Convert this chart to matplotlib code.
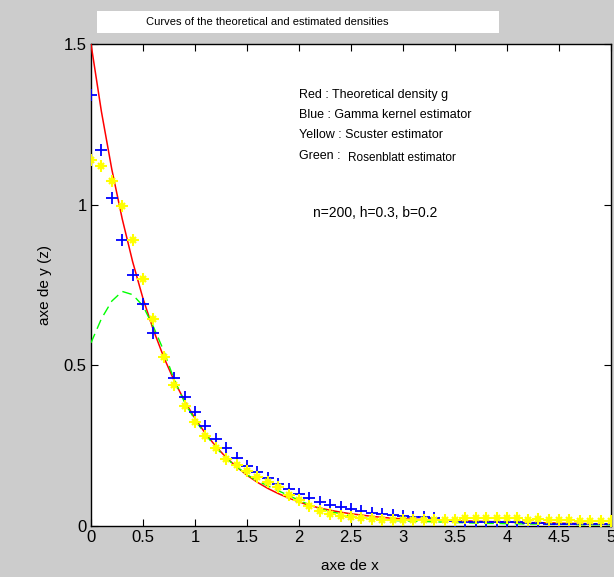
import matplotlib
matplotlib.use("Agg")
import matplotlib.pyplot as plt
from matplotlib.patches import Rectangle

# grid where every estimator was evaluated
x = [0.0, 0.1, 0.2, 0.3, 0.4, 0.5, 0.6, 0.7, 0.8, 0.9,
     1.0, 1.1, 1.2, 1.3, 1.4, 1.5, 1.6, 1.7, 1.8, 1.9,
     2.0, 2.1, 2.2, 2.3, 2.4, 2.5, 2.6, 2.7, 2.8, 2.9,
     3.0, 3.1, 3.2, 3.3, 3.4, 3.5, 3.6, 3.7, 3.8, 3.9,
     4.0, 4.1, 4.2, 4.3, 4.4, 4.5, 4.6, 4.7, 4.8, 4.9, 5.0]

# red: theoretical density g
g_theo = [1.50, 1.29, 1.11, 0.956, 0.823, 0.708, 0.610, 0.525, 0.452, 0.389,
          0.335, 0.288, 0.248, 0.213, 0.184, 0.158, 0.136, 0.117, 0.101, 0.087,
          0.075, 0.064, 0.056, 0.049, 0.043, 0.038, 0.034, 0.030, 0.027, 0.024,
          0.022, 0.021, 0.020, 0.019, 0.018, 0.017, 0.016, 0.015, 0.014, 0.013,
          0.012, 0.011, 0.011, 0.010, 0.010, 0.009, 0.008, 0.008, 0.007, 0.007, 0.006]

# blue: gamma kernel estimator
g_gamma = [1.34, 1.17, 1.02, 0.89, 0.78, 0.69, 0.60, 0.525, 0.46, 0.40,
           0.355, 0.31, 0.272, 0.242, 0.212, 0.188, 0.168, 0.15, 0.13, 0.115,
           0.10, 0.088, 0.075, 0.066, 0.059, 0.052, 0.046, 0.042, 0.038, 0.034,
           0.031, 0.029, 0.027, 0.024, 0.020, 0.015, 0.013, 0.013, 0.012, 0.012,
           0.012, 0.011, 0.010, 0.008, 0.007, 0.006, 0.006, 0.006, 0.006, 0.006, 0.006]

# yellow: Scuster estimator
g_scuster = [1.14, 1.12, 1.075, 0.995, 0.89, 0.77, 0.645, 0.525, 0.44, 0.375,
             0.325, 0.28, 0.243, 0.21, 0.19, 0.17, 0.153, 0.138, 0.12, 0.097,
             0.08, 0.062, 0.048, 0.038, 0.031, 0.029, 0.024, 0.021, 0.018, 0.018,
             0.018, 0.018, 0.018, 0.018, 0.018, 0.018, 0.024, 0.025, 0.024, 0.025,
             0.024, 0.024, 0.020, 0.021, 0.020, 0.020, 0.019, 0.017, 0.016, 0.016, 0.017]

# green: Rosenblatt estimator
g_rosen = [0.57, 0.645, 0.70, 0.73, 0.72, 0.685, 0.62, 0.545, 0.455, 0.385,
           0.33, 0.285, 0.245, 0.21, 0.185, 0.16, 0.14, 0.125, 0.11, 0.095,
           0.08, 0.066, 0.054, 0.045, 0.038, 0.031, 0.026, 0.022, 0.019, 0.017,
           0.016, 0.015, 0.014, 0.013, 0.012, 0.011, 0.010, 0.009, 0.008, 0.008,
           0.007, 0.007, 0.006, 0.006, 0.005, 0.005, 0.005, 0.004, 0.004, 0.004, 0.004]

legend_lines = ["Red : Theoretical density g",
                "Blue : Gamma kernel estimator",
                "Yellow : Scuster estimator"]

plt.rcParams["font.family"] = ["Liberation Sans", "DejaVu Sans"]

fig = plt.figure(figsize=(6.14, 5.77), dpi=100, facecolor="#cccccc")
ax = fig.add_axes([91/614, 51/577, 520/614, 482/577])

ax.plot(x, g_theo, color="red", lw=1.1, zorder=3)
ax.plot(x, g_rosen, color="#00ff00", lw=1.0, dashes=(7, 4), zorder=3)
ax.plot(x, g_gamma, ls="none", marker="+", ms=8.5, mew=1.3, color="blue", zorder=4)
# matlab-like '*' marker: long plus with short diagonals
ax.plot(x, g_scuster, ls="none", marker="+", ms=9, mew=1.5, color="yellow", zorder=5)
ax.plot(x, g_scuster, ls="none", marker="x", ms=4.5, mew=1.6, color="yellow", zorder=5)

ax.set_xlim(0, 5)
ax.set_ylim(0, 1.5)
ax.set_xticks([0, 0.5, 1, 1.5, 2, 2.5, 3, 3.5, 4, 4.5, 5])
ax.set_xticklabels(["0", "0.5", "1", "1.5", "2", "2.5", "3", "3.5", "4", "4.5", "5"])
ax.set_yticks([0, 0.5, 1, 1.5])
ax.set_yticklabels(["0", "0.5", "1", "1.5"])
ax.tick_params(direction="in", length=5, width=0.8, top=True, right=True,
               labelsize=12, pad=3)
for s in ax.spines.values():
    s.set_linewidth(1.0)

ax.set_xlabel("axe de x", fontsize=11, va="center")
ax.xaxis.set_label_coords(0.498, -0.083)
ax.set_ylabel("axe de y (z)", fontsize=11, va="center")
ax.yaxis.set_label_coords(-0.088, 0.5)

# title drawn in a white box above the axes
fig.patches.append(Rectangle((97/614, 1 - 33/577), 402/614, 22/577,
                             transform=fig.transFigure, facecolor="white",
                             edgecolor="none"))
fig.text(267/614, 1 - 22/577, "Curves of the theoretical and estimated densities",
         ha="center", va="center", fontsize=8)

ys = [0.894, 0.853, 0.811]
for line, yy in zip(legend_lines, ys):
    ax.text(0.4, yy, line, transform=ax.transAxes, fontsize=9, va="center")
ax.text(0.4, 0.768, "Green : ", transform=ax.transAxes, fontsize=9, va="center")
ax.text(0.494, 0.764, "Rosenblatt estimator", transform=ax.transAxes, fontsize=8.5,
        va="center")
ax.text(0.427, 0.649, "n=200, h=0.3, b=0.2", transform=ax.transAxes, fontsize=10,
        va="center")

fig.savefig("out.png", dpi=100, facecolor=fig.get_facecolor())
